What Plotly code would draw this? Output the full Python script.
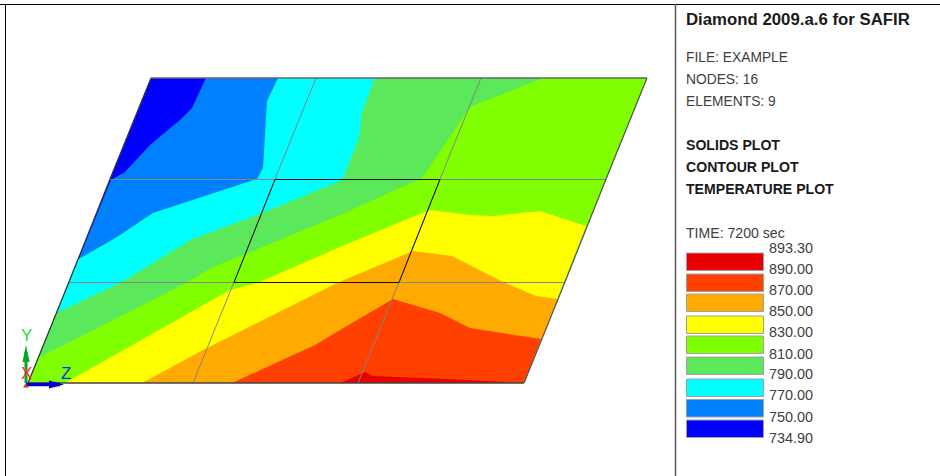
import plotly.graph_objects as go

# Element mesh nodes (row by row, bottom to top)
node_x = [[28, 193, 358, 524], [69, 234, 399, 565], [110, 275, 440, 606], [151, 316, 481, 647]]
node_y = [383, 282, 179, 78]

# Colour bands, low to high temperature
band_colors = ["#0000FF", "#0080FF", "#00FFFF", "#5BE85B", "#80FF00", "#FFFF00", "#FFAA00", "#FF4000", "#E60000"]
legend_values = ["893.30", "890.00", "870.00", "850.00", "830.00", "810.00", "790.00", "770.00", "750.00", "734.90"]

# Contour isotherms (x lists and y lists)
iso750_x = [111, 125, 150, 180, 192, 206]
iso750_y = [180, 172, 145, 120, 108, 78]
iso770_x = [77, 117, 153, 250, 257, 263, 265, 267, 278]
iso770_y = [260, 237, 213, 181, 179, 168, 127, 101, 78]
iso790_x = [56, 122, 190, 262, 340, 343, 359, 362, 375]
iso790_y = [313, 282, 240, 213, 181, 178, 138, 112, 78]
iso810_x = [38, 188, 213, 248, 340, 422, 470, 543]
iso810_y = [358, 282, 267, 253, 215, 178, 107, 78]
iso830_x = [65, 230, 257, 340, 422, 430, 470, 493, 540, 586]
iso830_y = [383, 290, 283, 247, 213, 210, 215, 216, 211, 226]
iso850_x = [142, 203, 337, 413, 452, 503, 536, 558]
iso850_y = [383, 350, 283, 251, 256, 282, 296, 299]
iso870_x = [232, 315, 340, 393, 440, 470, 541]
iso870_y = [383, 345, 330, 299, 313, 328, 339]
iso890_x = [340, 365, 373, 447, 524]
iso890_y = [383, 372, 376, 379, 383]

info_lines = ["FILE: EXAMPLE", "NODES: 16", "ELEMENTS: 9"]
plot_lines = ["SOLIDS PLOT", "CONTOUR PLOT", "TEMPERATURE PLOT"]
title_text = "Diamond 2009.a.6 for SAFIR"
time_text = "TIME: 7200 sec"

FONT = "Liberation Sans"
fig = go.Figure()


def poly(xs, ys, color):
    fig.add_trace(go.Scatter(x=xs, y=ys, mode="lines", fill="toself", fillcolor=color,
                             line=dict(width=0, color=color), hoverinfo="skip", showlegend=False))


def seg(xs, ys, color, w=1.0):
    fig.add_trace(go.Scatter(x=xs, y=ys, mode="lines", line=dict(width=w, color=color),
                             hoverinfo="skip", showlegend=False))


BL = (node_x[0][0], node_y[0])
BR = (node_x[0][3], node_y[0])
TR = (node_x[3][3], node_y[3])
TL = (node_x[3][0], node_y[3])

poly([BL[0], BR[0], TR[0], TL[0]], [BL[1], BR[1], TR[1], TL[1]], band_colors[0])
upper = [(iso750_x, iso750_y), (iso770_x, iso770_y), (iso790_x, iso790_y), (iso810_x, iso810_y)]
for i, (xs, ys) in enumerate(upper):
    poly(xs + [TR[0], BR[0], BL[0]], ys + [TR[1], BR[1], BL[1]], band_colors[i + 1])
lower = [(iso830_x, iso830_y), (iso850_x, iso850_y), (iso870_x, iso870_y), (iso890_x, iso890_y)]
for i, (xs, ys) in enumerate(lower):
    poly(xs + [BR[0]], ys + [BR[1]], band_colors[i + 5])

# Mesh lines
GRID = "#858585"
for r in (1, 2):
    seg([node_x[r][0], node_x[r][3]], [node_y[r] + 0.5] * 2, GRID)
for c in (1, 2):
    seg([node_x[r][c] for r in range(4)], node_y, GRID)
seg([node_x[3][0], node_x[3][3]], [node_y[3]] * 2, "#666666", 1.4)
seg([node_x[0][0], node_x[0][3]], [node_y[0]] * 2, "#444444", 1.4)
seg([node_x[r][0] for r in range(4)], node_y, "#333333", 1.2)
seg([node_x[r][3] for r in range(4)], node_y, "#555555", 1.2)
seg([node_x[1][1], node_x[1][2], node_x[2][2], node_x[2][1], node_x[1][1]],
    [node_y[1] + 0.5, node_y[1] + 0.5, node_y[2] + 0.5, node_y[2] + 0.5, node_y[1] + 0.5], "#111111", 1.0)

# Axis triad
seg([26, 26], [383, 352], "#00A820", 3)
poly([22.5, 26, 29.5], [362, 345, 362], "#00A820")
seg([26, 60], [384.5, 384.5], "#0000C8", 3.5)
poly([49, 64, 49], [380.5, 384.5, 388.5], "#0000C8")
poly([23, 26, 29], [387.5, 383, 387.5], "#C03030")

ann = []


def text(x, y, s, size, color="#404040", bold=False):
    ann.append(dict(x=x, y=y, xref="x", yref="y", text=f"<b>{s}</b>" if bold else s, showarrow=False,
                    xanchor="left", yanchor="middle", align="left",
                    font=dict(family=FONT, size=size, color=color)))


text(684, 19, title_text, 16.8, "#1a1a1a", True)
for s, y in zip(info_lines, [57, 79, 101]):
    text(684, y, s, 13.8)
for s, y in zip(plot_lines, [145, 167, 189]):
    text(684, y, s, 14.1, "#1a1a1a", True)
text(684, 233, time_text, 14.1)
for s, y in zip(legend_values, [248, 269, 290, 311, 332, 353.5, 374, 395, 417, 438]):
    text(767, y, s, 14.4)
text(19, 335, "Y", 17, "#20E040")
text(19, 373, "X", 17, "#F03030")
text(59, 373, "Z", 17, "#1030F0")

shapes = [
    dict(type="line", xref="x", yref="y", x0=0, x1=940, y0=4.5, y1=4.5, line=dict(color="#000000", width=1)),
    dict(type="line", xref="x", yref="y", x0=5.5, x1=5.5, y0=4, y1=476, line=dict(color="#000000", width=1)),
    dict(type="line", xref="x", yref="y", x0=675.5, x1=675.5, y0=4, y1=476, line=dict(color="#555555", width=1.5)),
]
swatch_tops = [253, 274, 294, 316, 336, 357, 379, 399.5, 420]
for color, top in zip(reversed(band_colors), swatch_tops):
    shapes.append(dict(type="rect", xref="x", yref="y", x0=686.5, x1=763.5, y0=top, y1=top + 17.5,
                       fillcolor=color, line=dict(color="#A0A0A0", width=1)))

fig.update_layout(width=940, height=476, margin=dict(l=0, r=0, t=0, b=0), paper_bgcolor="white",
                  plot_bgcolor="white", showlegend=False, annotations=ann, shapes=shapes,
                  xaxis=dict(range=[0, 940], visible=False, fixedrange=True),
                  yaxis=dict(range=[476, 0], visible=False, fixedrange=True))
fig.write_html("out.html", config={"displayModeBar": False},
               post_script="document.body.style.margin='0';document.body.style.overflow='hidden';")
